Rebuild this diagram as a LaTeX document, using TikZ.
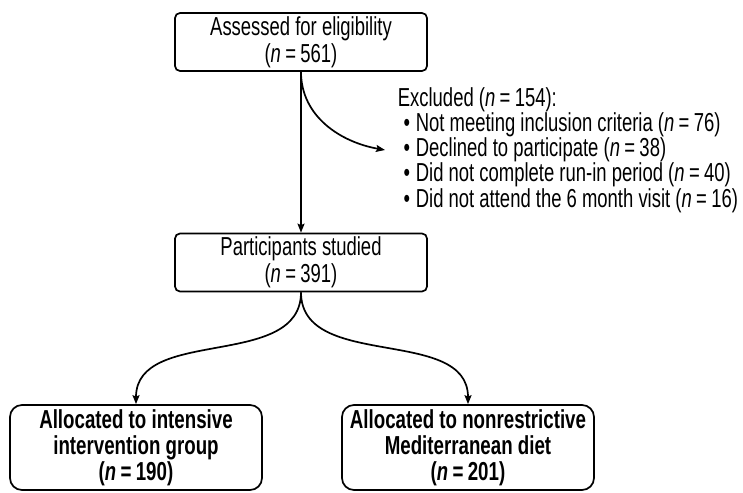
\documentclass[tikz,border=0pt]{standalone}
\usepackage{fontspec}
\setmainfont{Liberation Sans}[FakeStretch=0.71, BoldFeatures={FakeStretch=0.72}]
\usetikzlibrary{arrows.meta}
\newcommand{\nval}[1]{(\textit{n}\,=\,#1)}
\begin{document}
\begin{tikzpicture}[x=1pt,y=-1pt,
  line width=1.7pt,
  arr/.style={-{Stealth[length=9pt,width=7pt,inset=1.5pt]}},
  stagebox/.style={draw, rounded corners=5pt, align=center, inner sep=0pt,
    minimum width=252pt, minimum height=58pt,
    font=\fontsize{26}{27}\selectfont},
  groupbox/.style={draw, rounded corners=12pt, align=center, inner sep=0pt,
    minimum width=252pt, minimum height=85pt,
    font=\fontsize{26}{26}\selectfont\bfseries},
  listnode/.style={anchor=west, align=left, inner xsep=12pt, inner ysep=0pt,
    font=\fontsize{26}{22.5}\selectfont}
]
\useasboundingbox (0,0) rectangle (743,492);

% stages of the flow
\node[stagebox] (assess) at (301,42) {Assessed for eligibility\\\nval{561}};
\node[stagebox] (studied) at (301,262.5) {Participants studied\\\nval{391}};

% exclusions
\node[listnode] (excl) at (385,150) {Excluded \nval{154}:\\
  \makebox[18pt][c]{\textbullet}Not meeting inclusion criteria \nval{76}\\
  \makebox[18pt][c]{\textbullet}Declined to participate \nval{38}\\
  \makebox[18pt][c]{\textbullet}Did not complete run-in period \nval{40}\\
  \makebox[18pt][c]{\textbullet}Did not attend the 6 month visit \nval{16}};

% allocation groups
\node[groupbox] (grpA) at (136,447.5) {Allocated to intensive\\intervention group\\\nval{190}};
\node[groupbox] (grpB) at (468,447.5) {Allocated to nonrestrictive\\Mediterranean diet\\\nval{201}};

% connectors
\draw[arr] (assess.south) -- (studied.north);
\draw[arr] (assess.south) to[out=-90,in=170] (excl.west);
\draw[arr] (studied.south) to[out=-90,in=90] (grpA.north);
\draw[arr] (studied.south) to[out=-90,in=90] (grpB.north);
\end{tikzpicture}
\end{document}
